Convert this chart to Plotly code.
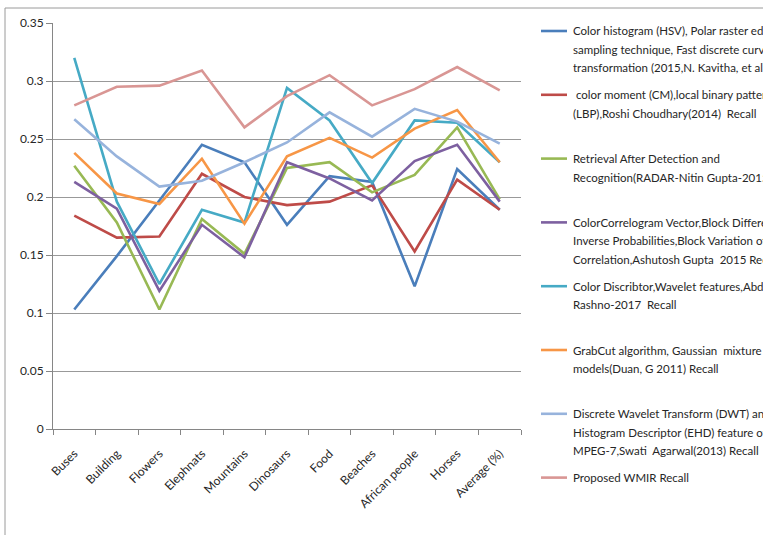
import plotly.graph_objects as go

# Image categories on the x axis
categories = ["Buses", "Building", "Flowers", "Elephnats", "Mountains", "Dinosaurs",
              "Food", "Beaches", "African people", "Horses", "Average (%)"]

# Recall values per method
hsv_polar_curvelet = [0.103, 0.149, 0.197, 0.245, 0.230, 0.176, 0.218, 0.213, 0.123, 0.224, 0.189]
cm_lbp = [0.184, 0.165, 0.166, 0.220, 0.200, 0.193, 0.196, 0.210, 0.153, 0.215, 0.189]
radar = [0.227, 0.178, 0.103, 0.181, 0.151, 0.225, 0.230, 0.204, 0.219, 0.260, 0.198]
correlogram_block = [0.213, 0.190, 0.119, 0.176, 0.148, 0.230, 0.216, 0.197, 0.231, 0.245, 0.196]
color_wavelet = [0.320, 0.196, 0.125, 0.189, 0.178, 0.294, 0.266, 0.212, 0.266, 0.264, 0.230]
grabcut_gmm = [0.238, 0.203, 0.194, 0.233, 0.177, 0.235, 0.251, 0.234, 0.259, 0.275, 0.230]
dwt_ehd = [0.267, 0.235, 0.209, 0.214, 0.230, 0.247, 0.273, 0.252, 0.276, 0.265, 0.246]
proposed_wmir = [0.279, 0.295, 0.296, 0.309, 0.260, 0.287, 0.305, 0.279, 0.293, 0.312, 0.292]

# Legend text, one list of lines per series
legend_lines = [
    ["Color histogram (HSV), Polar raster edge", "sampling technique, Fast discrete curvelet",
     "transformation (2015,N. Kavitha, et al) Recall"],
    [" color moment (CM),local binary pattern", "(LBP),Roshi Choudhary(2014)  Recall"],
    ["Retrieval After Detection and", "Recognition(RADAR-Nitin Gupta-2015) Recall"],
    ["ColorCorrelogram Vector,Block Difference of", "Inverse Probabilities,Block Variation of Local",
     "Correlation,Ashutosh Gupta  2015 Recall"],
    ["Color Discribtor,Wavelet features,Abdolreza", "Rashno-2017  Recall"],
    ["GrabCut algorithm, Gaussian  mixture", "models(Duan, G 2011) Recall"],
    ["Discrete Wavelet Transform (DWT) and Edge", "Histogram Descriptor (EHD) feature of",
     "MPEG-7,Swati  Agarwal(2013) Recall"],
    ["Proposed WMIR Recall"],
]

series = [hsv_polar_curvelet, cm_lbp, radar, correlogram_block,
          color_wavelet, grabcut_gmm, dwt_ehd, proposed_wmir]
colors = ["#4A7EBB", "#BE4B48", "#98B954", "#7D60A0", "#46AAC5", "#F79646", "#97B3DC", "#D99694"]

W, H = 763, 535
L, R, T, B = 53, 242, 23, 106
PW, PH = W - L - R, H - T - B


def px(x):
    return (x - L) / PW


def py(y):
    return (H - B - y) / PH


fig = go.Figure()
for vals, col, lines in zip(series, colors, legend_lines):
    fig.add_trace(go.Scatter(x=categories, y=vals, mode="lines", name=" ".join(lines),
                             line=dict(color=col, width=2.6), showlegend=False))

font = dict(family="Lato, 'Open Sans', sans-serif", size=12, color="#262626")
legend_font = dict(family="Lato, 'Open Sans', sans-serif", size=11.5, color="#262626")

shapes = []
annotations = []
entry_top = 31
entry_step = 63.8
line_step = 18.4
for i, (col, lines) in enumerate(zip(colors, legend_lines)):
    y0 = entry_top + i * entry_step
    shapes.append(dict(type="line", xref="paper", yref="paper",
                       x0=px(541), x1=px(567), y0=py(y0), y1=py(y0),
                       line=dict(color=col, width=2.6)))
    for j, txt in enumerate(lines):
        annotations.append(dict(text=txt, xref="paper", yref="paper",
                                x=px(571), y=py(y0 + j * line_step),
                                xanchor="left", yanchor="middle", showarrow=False,
                                font=legend_font, align="left"))

# outer chart frame (top and left edges)
shapes.append(dict(type="line", xref="paper", yref="paper", x0=px(5), x1=px(W + 5),
                   y0=py(8), y1=py(8), line=dict(color="#9a9a9a", width=1)))
shapes.append(dict(type="line", xref="paper", yref="paper", x0=px(5), x1=px(5),
                   y0=py(8), y1=py(H + 5), line=dict(color="#9a9a9a", width=1)))

fig.update_layout(
    width=W, height=H,
    margin=dict(l=L, r=R, t=T, b=B, autoexpand=False),
    paper_bgcolor="white", plot_bgcolor="white",
    shapes=shapes, annotations=annotations,
    font=font,
)
fig.update_xaxes(type="category", tickangle=-45, tickson="boundaries",
                 ticks="outside", ticklen=5, tickcolor="#868686",
                 showline=True, linecolor="#868686", linewidth=1,
                 showgrid=False, tickfont=font, ticklabelstandoff=12,
                 range=[-0.5, len(categories) - 0.5])
fig.update_yaxes(range=[0, 0.35], dtick=0.05, ticks="outside", ticklen=6,
                 tickcolor="#868686", showline=True, linecolor="#868686", linewidth=1,
                 showgrid=True, gridcolor="#999999", gridwidth=1, zeroline=False,
                 tickfont=font)

fig.write_html("out.html")
